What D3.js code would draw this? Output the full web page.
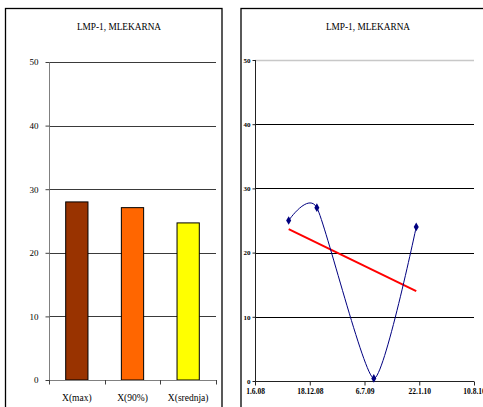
<!DOCTYPE html>
<html>
<head>
<meta charset="utf-8">
<script src="https://cdn.jsdelivr.net/npm/d3@7"></script>
<style>
  html, body { margin: 0; padding: 0; background: #fff; }
  svg { display: block; }
  text { font-family: "Liberation Serif", "Times New Roman", serif; fill: #000; }
</style>
</head>
<body>
<svg id="chart" width="483" height="407"></svg>
<script>
// Bar panel data
const barCategories = ["X(max)", "X(90%)", "X(srednja)"];
const barValues = [28.0, 27.1, 24.7];
const barColors = ["#993300", "#ff6600", "#ffff00"];

// Time-series panel data
const sampleDates = ["2.10.2008", "13.1.2009", "9.8.2009", "11.1.2010"];
const sampleValues = [25.0, 27.0, 0.4, 24.0];
const dateTickLabels = ["1.6.08", "18.12.08", "6.7.09", "22.1.10", "10.8.10"];

const yTicks = [0, 10, 20, 30, 40, 50];
const chartTitle = "LMP-1, MLEKARNA";

const svg = d3.select("#chart");
const parseDMY = d3.timeParse("%d.%m.%Y");
const parseShort = d3.timeParse("%d.%m.%y");

// ---------- Left panel: bars ----------
const L = svg.append("g");
L.append("rect").attr("x", 5.5).attr("y", 8.5).attr("width", 216.5).attr("height", 420)
  .attr("fill", "#fff").attr("stroke", "#000").attr("stroke-width", 1.3);
L.append("text").attr("x", 119).attr("y", 29.5).attr("text-anchor", "middle")
  .attr("font-size", "9.3px").text(chartTitle);

const xb = d3.scaleBand().domain(barCategories).range([49, 216]).paddingInner(0).paddingOuter(0);
const yb = d3.scaleLinear().domain([0, 50]).range([380, 62]);

L.append("g").selectAll("line").data(yTicks.filter(d => d > 0)).join("line")
  .attr("x1", 49).attr("x2", 216).attr("y1", d => Math.round(yb(d)) + 0.5).attr("y2", d => Math.round(yb(d)) + 0.5)
  .attr("stroke", "#3a3a3a").attr("stroke-width", 1);

const yAxisL = L.append("g").attr("transform", "translate(49.5,0)")
  .call(d3.axisLeft(yb).tickValues(yTicks).tickSize(4).tickPadding(7).tickFormat(d3.format("d")));
yAxisL.select(".domain").attr("stroke", "#808080").attr("d", `M0,${yb(50)}V${yb(0)}`);
yAxisL.selectAll(".tick line").attr("stroke", "#404040");
yAxisL.selectAll("text").attr("font-family", "Liberation Serif, serif").attr("font-size", "9px").attr("fill", "#000");

const barW = xb.bandwidth() * 0.4;
L.append("g").selectAll("rect").data(barCategories).join("rect")
  .attr("x", d => xb(d) + (xb.bandwidth() - barW) / 2)
  .attr("y", (d, i) => yb(barValues[i]))
  .attr("width", barW)
  .attr("height", (d, i) => yb(0) - yb(barValues[i]))
  .attr("fill", (d, i) => barColors[i])
  .attr("stroke", "#000").attr("stroke-width", 1);

const xAxisL = L.append("g").attr("transform", `translate(0,${Math.round(yb(0)) + 0.5})`)
  .call(d3.axisBottom(xb).tickSize(0).tickPadding(14));
xAxisL.select(".domain").attr("stroke", "#808080").attr("d", "M49,0H216");
xAxisL.selectAll("text").attr("font-family", "Liberation Serif, serif").attr("font-size", "9.5px").attr("fill", "#000");
// category boundary ticks
L.append("g").selectAll("line").data([...barCategories.map(d => xb(d)), 216]).join("line")
  .attr("x1", d => Math.round(d) + 0.5).attr("x2", d => Math.round(d) + 0.5)
  .attr("y1", Math.round(yb(0))).attr("y2", Math.round(yb(0)) + 4.5)
  .attr("stroke", "#404040");

// ---------- Right panel: time series ----------
const R = svg.append("g");
R.append("rect").attr("x", 241).attr("y", 8.5).attr("width", 260).attr("height", 420)
  .attr("fill", "#fff").attr("stroke", "#000").attr("stroke-width", 1.3);
R.append("text").attr("x", 368).attr("y", 29.5).attr("text-anchor", "middle")
  .attr("font-size", "9.3px").text(chartTitle);

const tickDates = dateTickLabels.map(parseShort);
const xt = d3.scaleTime().domain([tickDates[0], tickDates[tickDates.length - 1]]).range([255, 474]);
const yt = d3.scaleLinear().domain([0, 50]).range([381, 60]);

R.append("g").selectAll("line").data(yTicks.filter(d => d > 0)).join("line")
  .attr("x1", 255).attr("x2", 474).attr("y1", d => Math.round(yt(d)) + 0.5).attr("y2", d => Math.round(yt(d)) + 0.5)
  .attr("stroke", d => d === 50 ? "#c8c8c8" : "#000").attr("stroke-width", d => d === 50 ? 1.5 : 1);

const yAxisR = R.append("g").attr("transform", "translate(255.5,0)")
  .call(d3.axisLeft(yt).tickValues(yTicks).tickSize(3).tickPadding(2).tickFormat(d3.format("d")));
yAxisR.select(".domain").attr("stroke", "#222").attr("d", `M0,${yt(50)}V${yt(0)}`);
yAxisR.selectAll(".tick line").attr("stroke", "#222");
yAxisR.selectAll("text").attr("font-family", "Liberation Serif, serif").attr("font-size", "7px").attr("font-weight", "bold").attr("fill", "#333");

const xAxisR = R.append("g").attr("transform", `translate(0,${Math.round(yt(0)) + 0.5})`)
  .call(d3.axisBottom(xt).tickValues(tickDates).tickSize(4).tickPadding(3)
    .tickFormat((d, i) => dateTickLabels[i]));
xAxisR.select(".domain").attr("stroke", "#222").attr("d", "M255,0H474");
xAxisR.selectAll(".tick line").attr("stroke", "#222");
xAxisR.selectAll("text").attr("font-family", "Liberation Serif, serif").attr("font-size", "7.5px").attr("font-weight", "bold").attr("fill", "#333");

const pts = sampleDates.map((d, i) => ({ date: parseDMY(d), value: sampleValues[i] }));

// least-squares trend line over the samples
const xs = pts.map(p => +p.date), ys = pts.map(p => p.value);
const mx = d3.mean(xs), my = d3.mean(ys);
const slope = d3.sum(xs.map((x, i) => (x - mx) * (ys[i] - my))) / d3.sum(xs.map(x => (x - mx) ** 2));
const trend = [pts[0].date, pts[pts.length - 1].date].map(d => ({ date: d, value: my + slope * (+d - mx) }));

R.append("path").datum(trend)
  .attr("d", d3.line().x(d => xt(d.date)).y(d => yt(d.value)))
  .attr("fill", "none").attr("stroke", "#ff0000").attr("stroke-width", 2);

R.append("path").datum(pts)
  .attr("d", d3.line().x(d => xt(d.date)).y(d => yt(d.value)).curve(d3.curveCardinal.tension(0.4)))
  .attr("fill", "none").attr("stroke", "#000080").attr("stroke-width", 1);

R.append("g").selectAll("path").data(pts).join("path")
  .attr("transform", d => `translate(${xt(d.date)},${yt(d.value)})`)
  .attr("d", d3.symbol(d3.symbolDiamond, 22))
  .attr("fill", "#000080");
</script>
</body>
</html>
